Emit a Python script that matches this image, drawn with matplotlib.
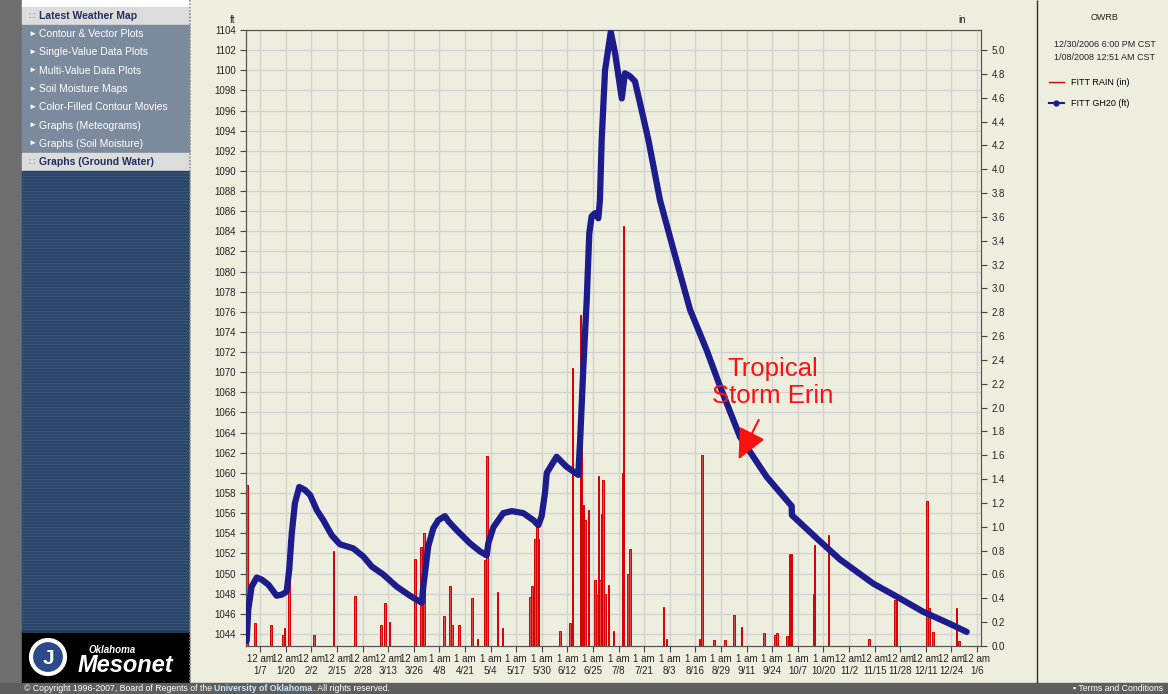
import matplotlib.pyplot as plt
from matplotlib.patches import Rectangle, Circle
from matplotlib.lines import Line2D

plt.rcParams['font.family'] = ['Liberation Sans', 'DejaVu Sans']

# groundwater level (ft), x = days since 1 Jan 2007
gw_day = [-0.9, -0.1, 1.6, 4.2, 6.7, 10.1, 14.3, 16.9, 19.4, 20.7, 22.0, 23.6,
          25.8, 28.7, 31.3, 34.7, 38.0, 42.3, 46.5, 49.9, 53.2, 58.3, 62.6,
          68.5, 75.3, 82.0, 88.0, 88.8, 91.3, 93.9, 96.4, 99.8, 101.5, 105.8,
          112.5, 117.6, 121.0, 121.8, 124.4, 129.4, 133.7, 139.6, 144.7, 147.2,
          148.9, 150.6, 151.5, 156.5, 161.6, 167.5, 168.4, 170.1, 171.8, 173.1,
          174.3, 176.0, 177.7, 178.5, 179.4, 181.1, 184.0, 186.2, 189.6, 191.2,
          193.8, 196.3, 198.9, 203.1, 209.0, 215.8, 224.3, 232.7, 239.5, 249.6,
          263.2, 275.9, 276.0, 288.6, 300.4, 317.3, 327.5, 342.7, 356.3, 364.8]
gw_ft = [1043.3, 1046.4, 1048.7, 1049.6, 1049.4, 1048.9, 1047.8, 1047.9, 1048.2,
         1050.4, 1054.0, 1057.0, 1058.6, 1058.3, 1057.8, 1056.3, 1055.3, 1053.8,
         1052.9, 1052.7, 1052.5, 1051.7, 1050.7, 1049.9, 1048.7, 1047.8, 1047.1,
         1048.7, 1052.7, 1054.5, 1055.3, 1055.7, 1055.2, 1054.3, 1053.0, 1052.2,
         1051.8, 1053.0, 1054.6, 1056.0, 1056.2, 1056.0, 1055.3, 1054.8, 1055.7,
         1058.0, 1060.0, 1061.6, 1060.6, 1059.8, 1063.0, 1070.6, 1077.2, 1083.8,
         1085.5, 1085.8, 1085.3, 1087.1, 1093.1, 1100.0, 1103.8, 1101.7, 1097.2,
         1099.7, 1099.4, 1098.9, 1096.7, 1093.1, 1087.1, 1082.2, 1076.2, 1072.2,
         1068.6, 1063.6, 1059.6, 1056.7, 1055.8, 1053.5, 1051.4, 1049.0, 1047.9,
         1046.2, 1045.0, 1044.2]

# daily rain (in)
rain_day = [-0.7, 3.3, 11.5, 17.5, 18.2, 20.6, 33.3, 43.1, 54.1, 67.2, 69.0,
            69.3, 71.7, 84.6, 87.5, 89.2, 99.3, 102.4, 103.4, 106.9, 113.4,
            116.4, 119.8, 120.1, 121.2, 126.4, 129.1, 143.0, 143.9, 145.5,
            146.4, 147.2, 158.2, 163.3, 164.5, 168.7, 169.2, 170.1, 170.9,
            172.6, 176.0, 176.9, 177.7, 178.5, 179.7, 180.2, 181.1, 182.8,
            185.3, 189.9, 190.4, 192.9, 193.8, 210.7, 212.4, 229.0, 230.2,
            236.4, 242.0, 246.6, 250.5, 261.8, 267.4, 268.3, 273.4, 274.7,
            275.9, 286.9, 287.4, 294.6, 315.3, 328.4, 329.2, 344.6, 345.5,
            347.8, 359.5, 361.0]
rain_in = [1.35, 0.19, 0.18, 0.09, 0.15, 0.89, 0.09, 0.80, 0.42, 0.18, 0.10,
           0.36, 0.20, 0.73, 0.83, 0.95, 0.25, 0.50, 0.18, 0.18, 0.40, 0.06,
           0.22, 0.72, 1.59, 0.45, 0.15, 0.41, 0.50, 0.90, 1.06, 0.90, 0.13,
           0.19, 2.33, 2.78, 2.06, 1.18, 1.06, 1.14, 0.55, 0.43, 1.43, 0.55,
           1.11, 1.39, 0.44, 0.51, 0.13, 1.45, 3.52, 0.60, 0.81, 0.33, 0.06,
           0.06, 1.60, 0.05, 0.05, 0.26, 0.16, 0.11, 0.09, 0.11, 0.08, 0.77,
           0.77, 0.44, 0.85, 0.93, 0.06, 0.39, 0.39, 1.22, 0.32, 0.12, 0.32,
           0.04]

tick_days = list(range(6, 371, 13))
tick_dates = ['1/7', '1/20', '2/2', '2/15', '2/28', '3/13', '3/26', '4/8', '4/21',
              '5/4', '5/17', '5/30', '6/12', '6/25', '7/8', '7/21', '8/3', '8/16',
              '8/29', '9/11', '9/24', '10/7', '10/20', '11/2', '11/15', '11/28',
              '12/11', '12/24', '1/6']
tick_hours = ['12 am'] * 7 + ['1 am'] * 16 + ['12 am'] * 6
tick_labels = [h + '\n' + d for h, d in zip(tick_hours, tick_dates)]

menu_items = ['Latest Weather Map', 'Contour & Vector Plots',
              'Single-Value Data Plots', 'Multi-Value Data Plots',
              'Soil Moisture Maps', 'Color-Filled Contour Movies',
              'Graphs (Meteograms)', 'Graphs (Soil Moisture)',
              'Graphs (Ground Water)']
menu_headers = [0, 8]

W, H = 1168, 694
BEIGE = '#eeeedf'
NAVY = '#1c1c8c'
RED = '#d80000'

fig = plt.figure(figsize=(W / 100, H / 100), dpi=100, facecolor=BEIGE)

# page furniture in pixel coordinates
bg = fig.add_axes([0, 0, 1, 1], zorder=-5)
bg.set_xlim(0, W)
bg.set_ylim(H, 0)
bg.axis('off')
bg.add_patch(Rectangle((0, 0), 22, H, color='#6e6e6e'))
bg.add_patch(Rectangle((22, 0), 168, 6.5, color='white'))
for i, name in enumerate(menu_items):
    top = 6.7 + i * 18.3
    head = i in menu_headers
    bg.add_patch(Rectangle((22, top), 167, 17.3,
                           color='#dcdcdc' if head else '#7b8a9c'))
    if head:
        bg.text(28, top + 9, '\u2237', fontsize=7, color='#8a8a9a', va='center')
        bg.text(39, top + 9, name, fontsize=7.5, color='#1f2f5f',
                fontweight='bold', va='center')
    else:
        bg.text(28, top + 9, '\u25ba', fontsize=6, color='white', va='center')
        bg.text(39, top + 9, name, fontsize=7.5, color='white', va='center')
bg.add_patch(Rectangle((22, 171), 167, 461, color='#2b4669'))
bg.hlines([y + 0.5 for y in range(172, 632, 3)], 22, 189, color='#3a5a80', lw=0.5)
bg.add_patch(Rectangle((22, 632), 167, 51, color='black'))
bg.add_patch(Circle((48, 657), 17, facecolor='#2a4a8a', edgecolor='white', lw=3))
bg.text(48, 658, 'J', fontsize=15, color='white', ha='center', va='center',
        fontweight='bold')
bg.text(112, 650, 'Oklahoma', fontsize=7, color='white', style='italic',
        fontweight='bold', ha='center', va='center')
bg.text(125, 665, 'Mesonet', fontsize=17, color='white', style='italic',
        fontweight='bold', ha='center', va='center')
bg.vlines(190, 0, 683, color='#8a8a8a', lw=1.2, linestyles=(0, (1, 1)))
bg.vlines(1037, 0, 683, color='#303030', lw=1)

# footer bar, pieces chained so they sit next to each other
bg.add_patch(Rectangle((0, 683), W, 11, color='#5e5e5e'))
t1 = bg.text(24, 688.8, '\u00a9 Copyright 1996-2007, Board of Regents of the ',
             fontsize=6.3, color='white', va='center')
t2 = bg.annotate('University of Oklahoma', xy=(1, 0.5), xycoords=t1,
                 fontsize=6.3, color='#cfe6ff', fontweight='bold', va='center')
bg.annotate('. All rights reserved.', xy=(1, 0.5), xycoords=t2, fontsize=6.3,
            color='white', va='center')
bg.text(1073, 688.8, '\u25aa Terms and Conditions', fontsize=6.3, color='white',
        va='center')

# side panel text
bg.text(1105, 17, 'OWRB', fontsize=6.5, ha='center', va='center', color='#222222')
bg.text(1105, 44, '12/30/2006 6:00 PM CST', fontsize=6.5, ha='center',
        va='center', color='#222222')
bg.text(1105, 57, '1/08/2008 12:51 AM CST', fontsize=6.5, ha='center',
        va='center', color='#222222')

# chart
ax = fig.add_axes([246 / W, (H - 646) / H, 735 / W, 616 / H])
ax.set_facecolor(BEIGE)
axr = ax.twinx()
axl = ax.twinx()

ax.set_xlim(-1.25, 372.04)
ax.set_ylim(1042.8, 1104)
ax.set_yticks(range(1044, 1105, 2))
ax.set_xticks(tick_days)
ax.set_xticklabels(tick_labels, linespacing=1.25)
ax.grid(True, color='#d2d2d2', lw=1)
ax.set_axisbelow(True)
ax.tick_params(labelsize=7, length=4, color='#444444', labelcolor='#222222')
ax.tick_params(axis='x', pad=2)

axr.bar(rain_day, rain_in, width=0.8, facecolor='#e04848', edgecolor=RED, lw=0.7)
axr.set_ylim(0, 5.168)
axr.set_yticks([i / 5 for i in range(26)])
axr.set_yticklabels(['%.1f' % (i / 5) for i in range(26)])
axr.tick_params(labelsize=7, length=4, color='#444444', labelcolor='#222222')

axl.plot(gw_day, gw_ft, color=NAVY, lw=4.5, solid_capstyle='round',
         solid_joinstyle='round')
axl.set_ylim(ax.get_ylim())
axl.axis('off')

for a in (ax, axr):
    for s in a.spines.values():
        s.set_color('#555555')

ax.text(-0.015, 1.012, 'ft', transform=ax.transAxes, fontsize=7, ha='right',
        color='#222222')
ax.text(0.974, 1.012, 'in', transform=ax.transAxes, fontsize=7, ha='center',
        color='#222222')

axl.text(266.1, 1069.0, 'Tropical\nStorm Erin', color='#ff1010', fontsize=18.5,
         ha='center', va='center', linespacing=1.15)
axl.annotate('', xy=(248.3, 1061.1), xytext=(259.8, 1065.5),
             arrowprops=dict(arrowstyle='-|>,head_length=0.85,head_width=0.4',
                             color='#ff1010', lw=1.5, mutation_scale=22))

handles = [Line2D([], [], color=RED, lw=1),
           Line2D([], [], color=NAVY, lw=1.5, marker='o', ms=3.5)]
fig.legend(handles, ['FITT RAIN (in)', 'FITT GH20 (ft)'], loc='upper left',
           bbox_to_anchor=(1041 / W, 1 - 70 / H), frameon=False, fontsize=6.5,
           handlelength=1.6, handletextpad=0.8, labelspacing=1.3)

fig.savefig('out.png', dpi=100, facecolor=BEIGE)
